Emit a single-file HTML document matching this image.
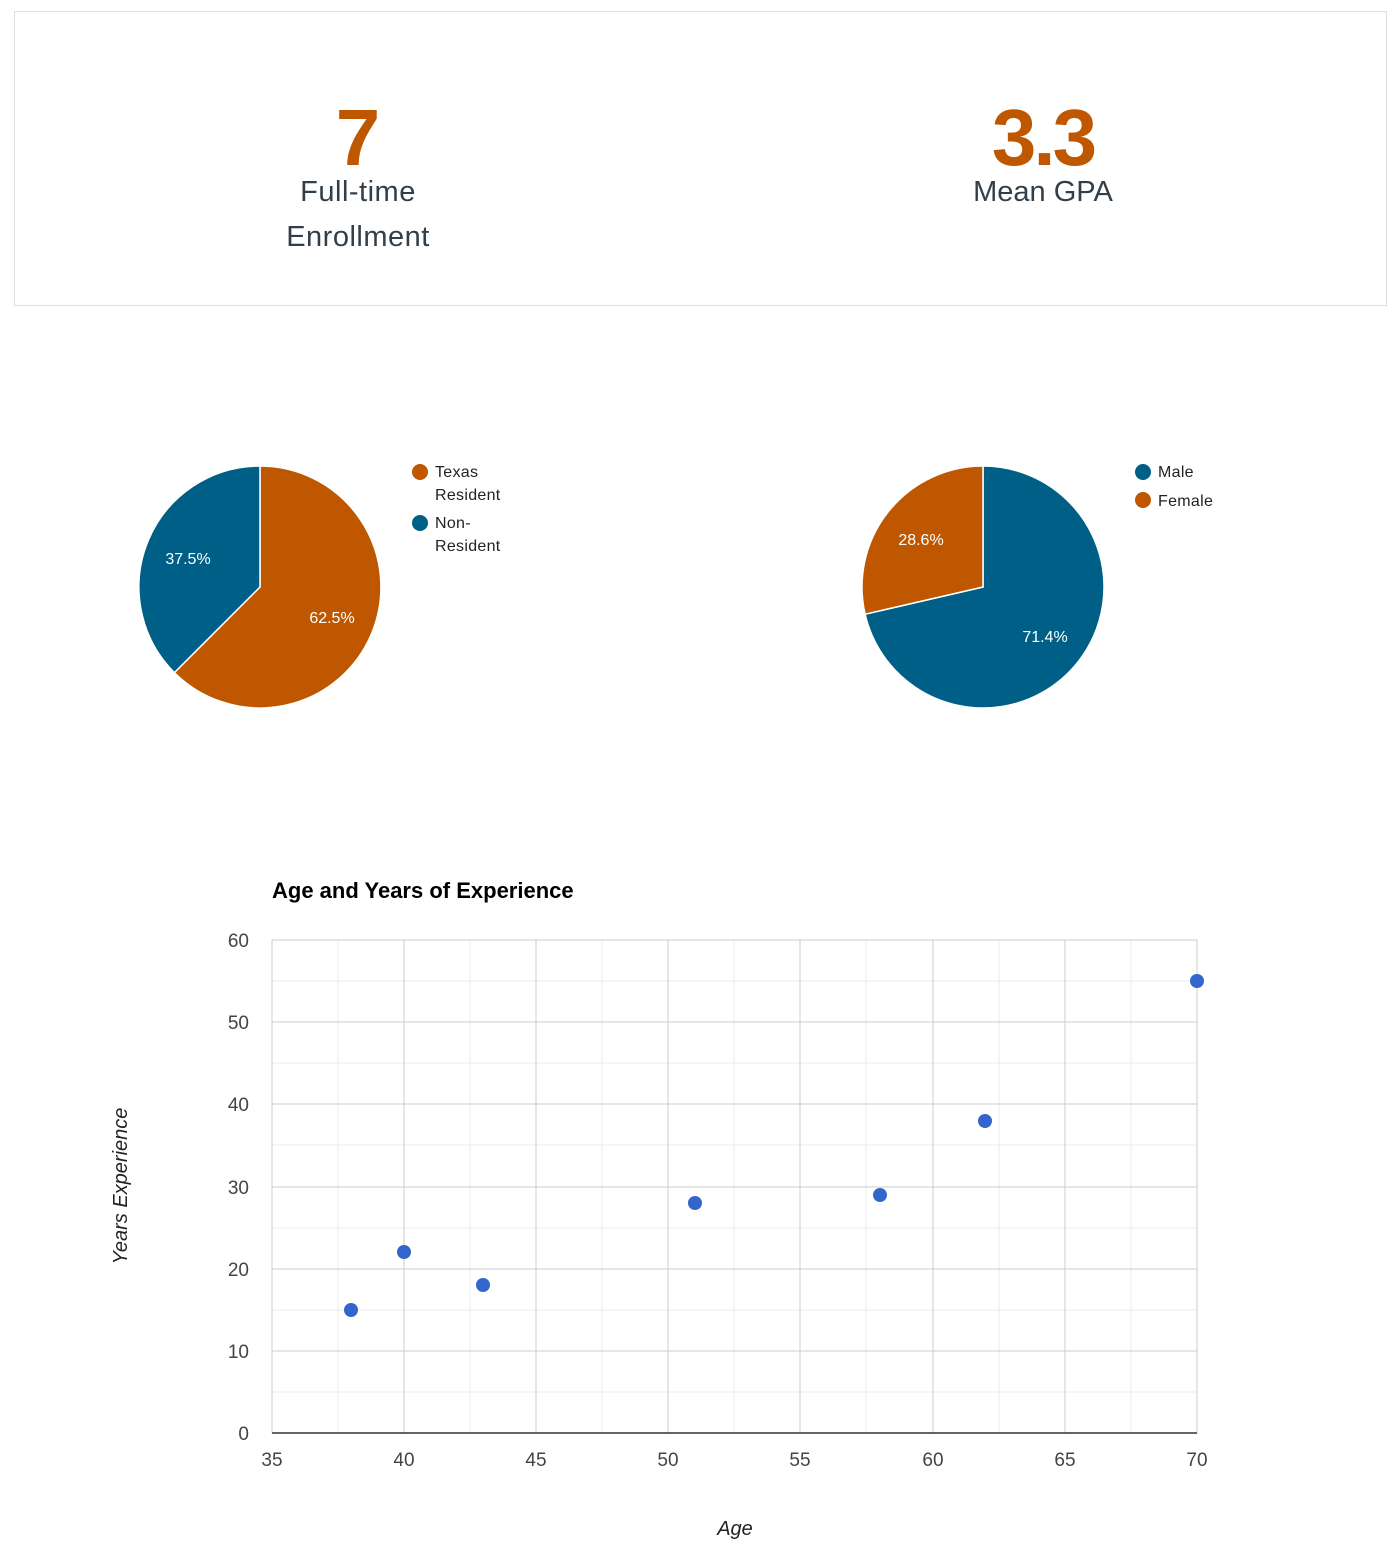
<!DOCTYPE html>
<html><head><style>
body{margin:0;background:#fff;width:1396px;height:1556px;overflow:hidden;font-family:"Liberation Sans",sans-serif}
</style></head><body>
<svg width="1396" height="1556" xmlns="http://www.w3.org/2000/svg" font-family="Liberation Sans, sans-serif">
<rect x="14.5" y="11.5" width="1372" height="294" fill="#fff" stroke="#ddd"/>
<text x="358" y="165" text-anchor="middle" font-size="80" font-weight="bold" fill="#bf5700">7</text>
<text x="358" y="201" text-anchor="middle" font-size="29" fill="#333f48" letter-spacing="0.5">Full-time</text>
<text x="358" y="246" text-anchor="middle" font-size="29" fill="#333f48" letter-spacing="0.5">Enrollment</text>
<text x="1043" y="165" text-anchor="middle" font-size="80" font-weight="bold" fill="#bf5700" letter-spacing="-3">3.3</text>
<text x="1043" y="201" text-anchor="middle" font-size="29" fill="#333f48">Mean GPA</text>

<!-- pie 1 -->
<path d="M260,587 L260,466 A121,121 0 1 1 174.4,672.6 Z" fill="#bf5700" stroke="#fff" stroke-width="1.5"/>
<path d="M260,587 L174.4,672.6 A121,121 0 0 1 260,466 Z" fill="#005f86" stroke="#fff" stroke-width="1.5"/>
<text x="188" y="564" text-anchor="middle" font-size="16" fill="#fff">37.5%</text>
<text x="332" y="623" text-anchor="middle" font-size="16" fill="#fff">62.5%</text>
<circle cx="420" cy="472" r="8" fill="#bf5700"/>
<text x="435" y="477" font-size="16" fill="#222" letter-spacing="0.3">Texas</text>
<text x="435" y="500" font-size="16" fill="#222" letter-spacing="0.3">Resident</text>
<circle cx="420" cy="523" r="8" fill="#005f86"/>
<text x="435" y="528" font-size="16" fill="#222" letter-spacing="0.3">Non-</text>
<text x="435" y="551" font-size="16" fill="#222" letter-spacing="0.3">Resident</text>

<!-- pie 2 -->
<path d="M983,587 L983,466 A121,121 0 1 1 865.1,614.2 Z" fill="#005f86" stroke="#fff" stroke-width="1.5"/>
<path d="M983,587 L865.1,614.2 A121,121 0 0 1 983,466 Z" fill="#bf5700" stroke="#fff" stroke-width="1.5"/>
<text x="921" y="545" text-anchor="middle" font-size="16" fill="#fff">28.6%</text>
<text x="1045" y="642" text-anchor="middle" font-size="16" fill="#fff">71.4%</text>
<circle cx="1143" cy="472" r="8" fill="#005f86"/>
<text x="1158" y="477" font-size="16" fill="#222" letter-spacing="0.3">Male</text>
<circle cx="1143" cy="500" r="8" fill="#bf5700"/>
<text x="1158" y="506" font-size="16" fill="#222" letter-spacing="0.3">Female</text>

<!-- scatter -->
<text x="272" y="898" font-size="22" font-weight="bold" fill="#000">Age and Years of Experience</text>
<g stroke="#ebebeb">
<line x1="338" y1="940" x2="338" y2="1433"/><line x1="470" y1="940" x2="470" y2="1433"/><line x1="602" y1="940" x2="602" y2="1433"/><line x1="734" y1="940" x2="734" y2="1433"/><line x1="866" y1="940" x2="866" y2="1433"/><line x1="999" y1="940" x2="999" y2="1433"/><line x1="1131" y1="940" x2="1131" y2="1433"/>
<line x1="272" y1="981" x2="1197" y2="981"/><line x1="272" y1="1063" x2="1197" y2="1063"/><line x1="272" y1="1145" x2="1197" y2="1145"/><line x1="272" y1="1228" x2="1197" y2="1228"/><line x1="272" y1="1310" x2="1197" y2="1310"/><line x1="272" y1="1392" x2="1197" y2="1392"/>
</g>
<g stroke="#ccc">
<line x1="272" y1="940" x2="272" y2="1433"/><line x1="404" y1="940" x2="404" y2="1433"/><line x1="536" y1="940" x2="536" y2="1433"/><line x1="668" y1="940" x2="668" y2="1433"/><line x1="800" y1="940" x2="800" y2="1433"/><line x1="933" y1="940" x2="933" y2="1433"/><line x1="1065" y1="940" x2="1065" y2="1433"/><line x1="1197" y1="940" x2="1197" y2="1433"/>
<line x1="272" y1="940" x2="1197" y2="940"/><line x1="272" y1="1022" x2="1197" y2="1022"/><line x1="272" y1="1104" x2="1197" y2="1104"/><line x1="272" y1="1187" x2="1197" y2="1187"/><line x1="272" y1="1269" x2="1197" y2="1269"/><line x1="272" y1="1351" x2="1197" y2="1351"/>
</g>
<line x1="272" y1="1433" x2="1197" y2="1433" stroke="#333" stroke-width="1.5"/>
<g font-size="19" fill="#444" text-anchor="end">
<text x="249" y="947">60</text><text x="249" y="1029">50</text><text x="249" y="1111">40</text><text x="249" y="1194">30</text><text x="249" y="1276">20</text><text x="249" y="1358">10</text><text x="249" y="1440">0</text>
</g>
<g font-size="19" fill="#444" text-anchor="middle">
<text x="272" y="1466">35</text><text x="404" y="1466">40</text><text x="536" y="1466">45</text><text x="668" y="1466">50</text><text x="800" y="1466">55</text><text x="933" y="1466">60</text><text x="1065" y="1466">65</text><text x="1197" y="1466">70</text>
</g>
<text x="735" y="1535" text-anchor="middle" font-size="20" font-style="italic" fill="#222">Age</text>
<text transform="translate(127,1186) rotate(-90)" text-anchor="middle" font-size="20" font-style="italic" fill="#222">Years Experience</text>
<g fill="#3366cc">
<circle cx="351" cy="1310" r="7"/><circle cx="404" cy="1252" r="7"/><circle cx="483" cy="1285" r="7"/><circle cx="695" cy="1203" r="7"/><circle cx="880" cy="1195" r="7"/><circle cx="985" cy="1121" r="7"/><circle cx="1197" cy="981" r="7"/>
</g>
</svg>
</body></html>
